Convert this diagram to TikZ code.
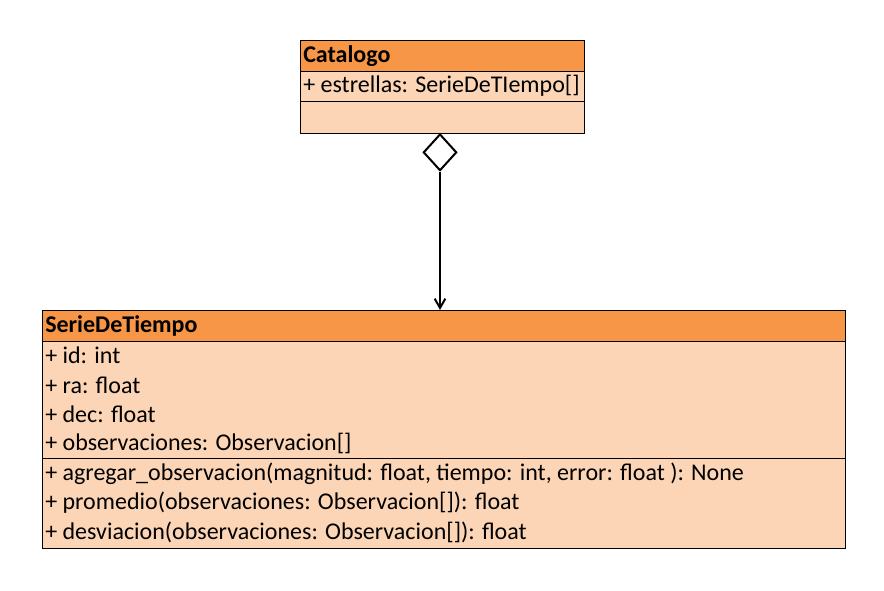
\documentclass[tikz,border=0pt]{standalone}
\usepackage{fontspec}
\setmainfont{Carlito}
\usetikzlibrary{shapes.geometric,arrows.meta}
\definecolor{headorange}{HTML}{F79646}
\definecolor{bodyorange}{HTML}{FBD5B5}

\begin{document}
\begin{tikzpicture}[x=0.75pt,y=-0.75pt,
		box/.style={draw=black, line width=0.6pt, fill=bodyorange, inner sep=0pt, anchor=north west},
		head/.style={draw=black, line width=0.6pt, fill=headorange, inner sep=0pt, anchor=north west},
		row/.style={anchor=west, inner sep=0pt, font=\fontsize{18}{21}\selectfont},
		aggr/.style={diamond, draw=black, line width=1.5pt, fill=white, inner sep=0pt, minimum width=25pt, minimum height=27.5pt}]
		%%%%% START %%%%%
		\useasboundingbox (0,0) rectangle (884,590);
		
		% Catalogo
		\node[box, minimum width=213pt, minimum height=69.75pt] (catalogo) at (300,40) {};
		\node[head, minimum width=213pt, minimum height=23.25pt] (cathead) at (300,40) {};
		\draw[line width=0.4pt] (300,101) -- (584,101);
		\node[row, font=\fontsize{18}{21}\bfseries] (catname) at (303,56) {Catalogo};
		\node[row] (estrellas) at (303,86) {+ estrellas: SerieDeTIempo[]};
		
		% SerieDeTiempo
		\node[box, minimum width=602.25pt, minimum height=178.5pt] (serie) at (42,310) {};
		\node[head, minimum width=602.25pt, minimum height=23.25pt] (seriehead) at (42,310) {};
		\draw[line width=0.4pt] (42,458) -- (845,458);
		\node[row, font=\fontsize{18}{21}\bfseries] (seriename) at (45,326) {SerieDeTiempo};
		\node[row] (id) at (45,355) {+ id: int};
		\node[row] (ra) at (45,385) {+ ra: float};
		\node[row] (dec) at (45,414) {+ dec: float};
		\node[row] (obs) at (45,443) {+ observaciones: Observacion[]};
		\node[row] (agregar) at (45,474) {+ agregar\_observacion(magnitud: float, tiempo: int, error: float ): None};
		\node[row] (promedio) at (45,503) {+ promedio(observaciones: Observacion[]): float};
		\node[row] (desviacion) at (45,532) {+ desviacion(observaciones: Observacion[]): float};
		
		% agregacion
		\node[aggr, anchor=north] (rombo) at (440,133) {};
		\draw[line width=1.5pt, -{Straight Barb[length=7pt, width=8pt]}] (rombo.south) -- (rombo.south |- seriehead.north);
		
		%%%%% END %%%%%
\end{tikzpicture}
\end{document}
